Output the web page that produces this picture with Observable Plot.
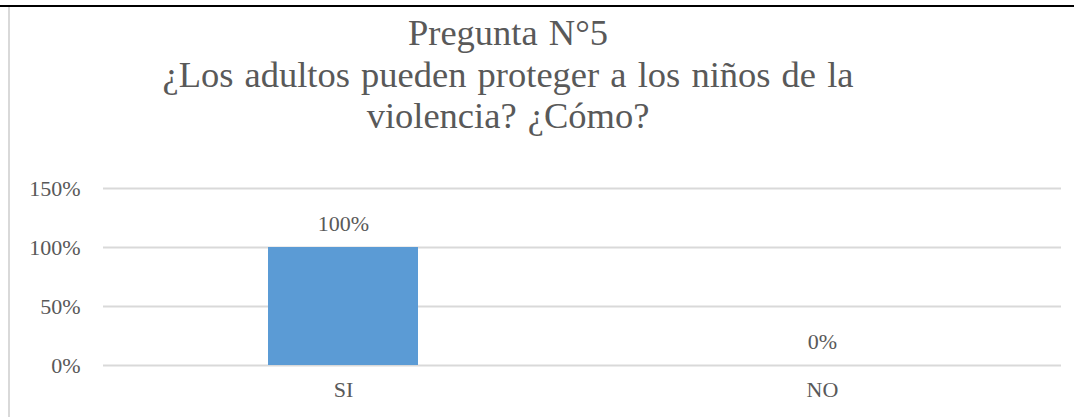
<!DOCTYPE html>
<html>
<head>
<meta charset="utf-8">
<script src="https://cdn.jsdelivr.net/npm/d3@7"></script>
<script src="https://cdn.jsdelivr.net/npm/@observablehq/plot@0.6"></script>
<style>
  html, body { margin: 0; padding: 0; background: #fff; }
  #wrap { position: relative; width: 1074px; height: 417px; overflow: hidden; font-family: "Liberation Serif", "Times New Roman", serif; }
  #topline { position: absolute; left: 0; top: 5px; width: 1074px; height: 2px; background: #000; }
  #leftline { position: absolute; left: 8px; top: 7px; width: 2px; height: 410px; background: #d9d9d9; }
  #title { position: absolute; left: 0; width: 1016px; top: 12px; text-align: center; color: #595959; font-size: 36.5px; line-height: 41.5px; word-spacing: 2px; }
  #chart { position: absolute; left: 0; top: 160px; }
</style>
</head>
<body>
<div id="wrap">
  <div id="topline"></div>
  <div id="leftline"></div>
  <div id="title">Pregunta N°5<br>¿Los adultos pueden proteger a los niños de la<br>violencia? ¿Cómo?</div>
  <div id="chart"></div>
</div>
<script>
const categories = ["SI", "NO"];
const values = [1.0, 0.0];
const yTicks = [0, 0.5, 1.0, 1.5];

const data = categories.map((c, i) => ({cat: c, val: values[i]}));
const pct = d => Math.round(d * 100) + "%";

const chart = Plot.plot({
  width: 1074,
  height: 257,
  marginLeft: 103,
  marginRight: 13,
  marginTop: 28,
  marginBottom: 52,
  style: { fontFamily: "Liberation Serif, Times New Roman, serif", fontSize: "22px", color: "#595959", background: "transparent" },
  x: { domain: categories, paddingInner: 0.687, paddingOuter: 0.3435, label: null },
  y: { domain: [0, 1.5], label: null },
  marks: [
    Plot.gridY(yTicks, { stroke: "#d9d9d9", strokeOpacity: 1, strokeWidth: 2 }),
    Plot.barY(data, { x: "cat", y: "val", fill: "#5b9bd5" }),
    Plot.text(data, { x: "cat", y: "val", text: d => pct(d.val), lineAnchor: "bottom", dy: -17, fill: "#595959", fontSize: 22 }),
    Plot.axisY(yTicks, { tickSize: 0, tickPadding: 23, tickFormat: pct, fill: "#595959", fontSize: 22 }),
    Plot.axisX({ tickSize: 0, tickPadding: 16, fill: "#595959", fontSize: 22 })
  ]
});
document.getElementById("chart").appendChild(chart);
</script>
</body>
</html>
